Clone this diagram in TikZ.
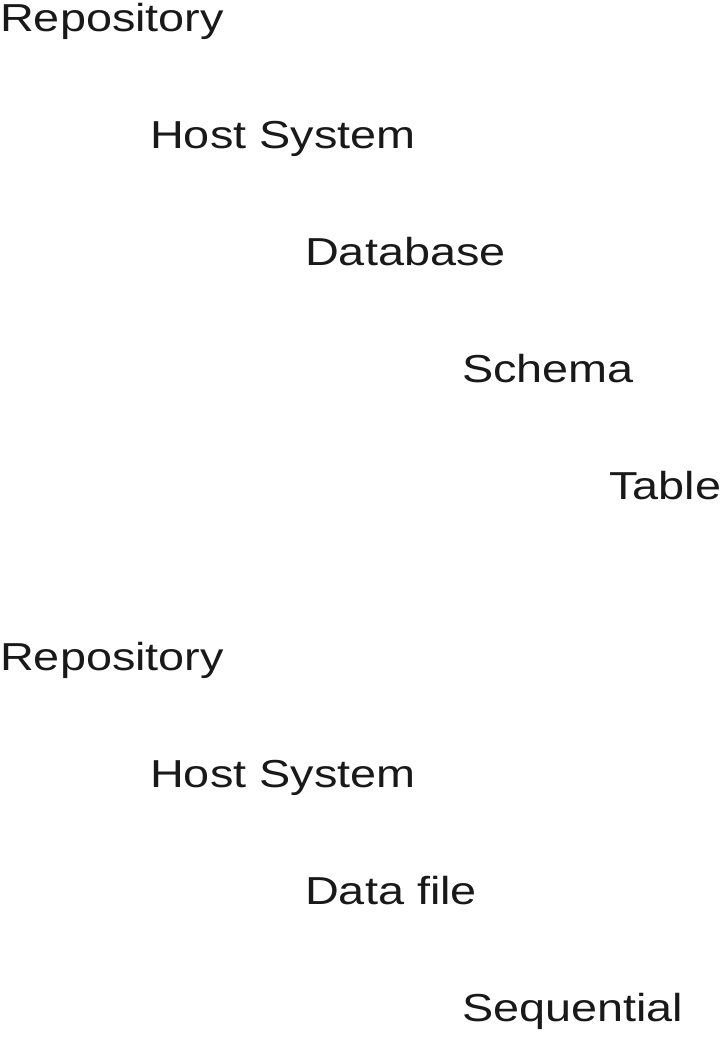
\documentclass[tikz,border=0pt]{standalone}
\usepackage{fontspec}
\setmainfont[FakeStretch=1.2]{Liberation Sans}
\tikzset{
  lvl/.style={anchor=base west, inner sep=0pt, text=black!90,
    font=\fontsize{39}{44}\selectfont},
}

\begin{document}
\begin{tikzpicture}[x=1pt, y=-1pt]
  \useasboundingbox (0,0) rectangle (723,1037);

  % Table hierarchy
  \node[lvl] (repoA)   at (0, 31)   {Repository};
  \node[lvl] (hostA)   at (150, 148) {Host System};
  \node[lvl] (dbase)   at (305, 265) {Database};
  \node[lvl] (schema)  at (462, 382) {Schema};
  \node[lvl] (table)   at (609, 499) {Table};

  % File hierarchy
  \node[lvl] (repoB)   at (0, 670)   {Repository};
  \node[lvl] (hostB)   at (150, 787) {Host System};
  \node[lvl] (dfile)   at (305, 904) {Data file};
  \node[lvl] (seqfile) at (462, 1021) {Sequential};
\end{tikzpicture}
\end{document}
